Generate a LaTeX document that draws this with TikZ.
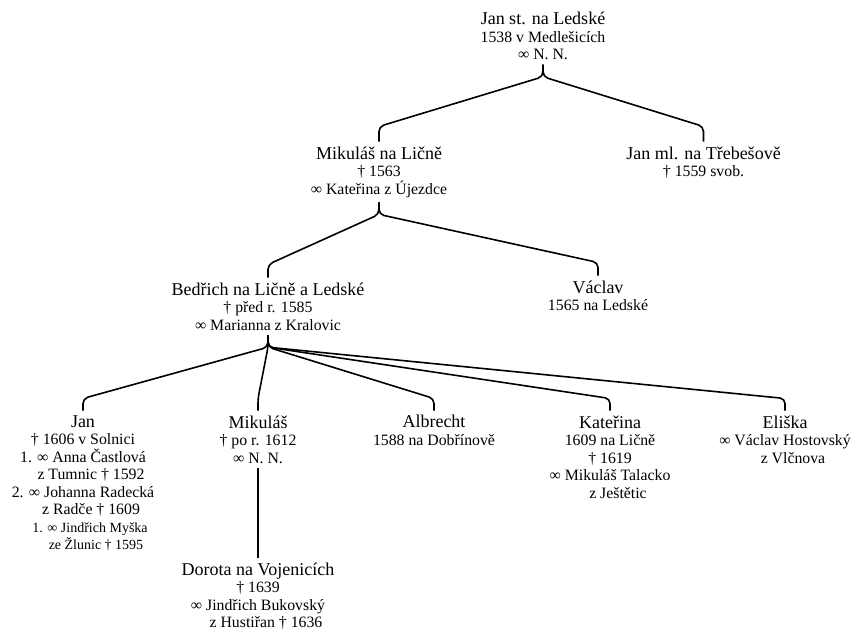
\documentclass[tikz,border=0pt]{standalone}
\usepackage{fontspec}
\setmainfont{Liberation Serif}
\usetikzlibrary{positioning,calc}
\newcommand{\jmeno}[1]{{\fontsize{18}{17.5}\selectfont #1}}
\newcommand{\mensi}[1]{{\fontsize{14}{17.5}\selectfont #1}}
\newcommand{\odsaz}[1][16pt]{\hspace*{#1}}

\begin{document}
\begin{tikzpicture}[x=1pt, y=-1pt,
  osoba/.style={align=center, anchor=north, inner sep=0pt, outer sep=5pt, font=\fontsize{15.8}{17.5}\selectfont},
  vazba/.style={draw, line width=1.6pt, rounded corners=5pt}]

\useasboundingbox (0,0) rectangle (862,633);

% GENERACE 1

\node [osoba] (jan-st) at (543,7) {\jmeno{Jan st. na Ledské}\\1538 v Medlešicích\\∞ N. N.};

% GENERACE 2

\node [osoba] (mikulas) at (379,141.5) {\jmeno{Mikuláš na Ličně}\\† 1563\\∞ Kateřina z Újezdce};

\node [osoba] (jan-ml) at (703.5,141.5) {\jmeno{Jan ml. na Třebešově}\\† 1559 svob.};

% GENERACE 3

\node [osoba] (bedrich) at (268,277.5) {\jmeno{Bedřich na Ličně a Ledské}\\† před r. 1585\\∞ Marianna z Kralovic};

\node [osoba] (vaclav) at (598,275.5) {\jmeno{Václav}\\1565 na Ledské};

% GENERACE 4

\node [osoba] (jan) at (83,410.5) {\jmeno{Jan}\\† 1606 v Solnici\\1. ∞ Anna Častlová\\\odsaz z Tumnic † 1592\\2. ∞ Johanna Radecká\\\odsaz z Radče † 1609\\\mensi{\odsaz[14pt]1. ∞ Jindřich Myška}\\\mensi{\odsaz[26pt]ze Žlunic † 1595}};

\node [osoba] (mikulas-ml) at (258,410.5) {\jmeno{Mikuláš}\\† po r. 1612\\∞ N. N.};

\node [osoba] (albrecht) at (434,410.5) {\jmeno{Albrecht}\\1588 na Dobřínově};

\node [osoba] (katerina) at (610,410.5) {\jmeno{Kateřina}\\1609 na Ličně\\† 1619\\∞ Mikuláš Talacko\\\odsaz z Ještětic};

\node [osoba] (eliska) at (785,410.5) {\jmeno{Eliška}\\∞ Václav Hostovský\\\odsaz z Vlčnova};

% GENERACE 5

\node [osoba] (dorota) at (258,557.5) {\jmeno{Dorota na Vojenicích}\\† 1639\\∞ Jindřich Bukovský\\\odsaz z Hustiřan † 1636};

% VAZBY

\draw [vazba] (jan-st.south) -- ++(0,12) -- ($(mikulas.north)+(0,-15)$) -- (mikulas.north);
\draw [vazba] (jan-st.south) -- ++(0,12) -- ($(jan-ml.north)+(0,-15)$) -- (jan-ml.north);

\draw [vazba] (mikulas.south) -- ++(0,12) -- ($(bedrich.north)+(0,-13)$) -- (bedrich.north);
\draw [vazba] (mikulas.south) -- ++(0,12) -- ($(vaclav.north)+(0,-13)$) -- (vaclav.north);

\draw [vazba] (bedrich.south) -- ++(0,12) -- ($(jan.north)+(0,-12)$) -- (jan.north);
\draw [vazba] (bedrich.south) -- ++(0,12) -- ($(mikulas-ml.north)+(0,-12)$) -- (mikulas-ml.north);
\draw [vazba] (bedrich.south) -- ++(0,12) -- ($(albrecht.north)+(0,-12)$) -- (albrecht.north);
\draw [vazba] (bedrich.south) -- ++(0,12) -- ($(katerina.north)+(0,-12)$) -- (katerina.north);
\draw [vazba] (bedrich.south) -- ++(0,12) -- ($(eliska.north)+(0,-12)$) -- (eliska.north);

\draw [vazba] (mikulas-ml.south) -- (dorota.north);

\end{tikzpicture}
\end{document}
